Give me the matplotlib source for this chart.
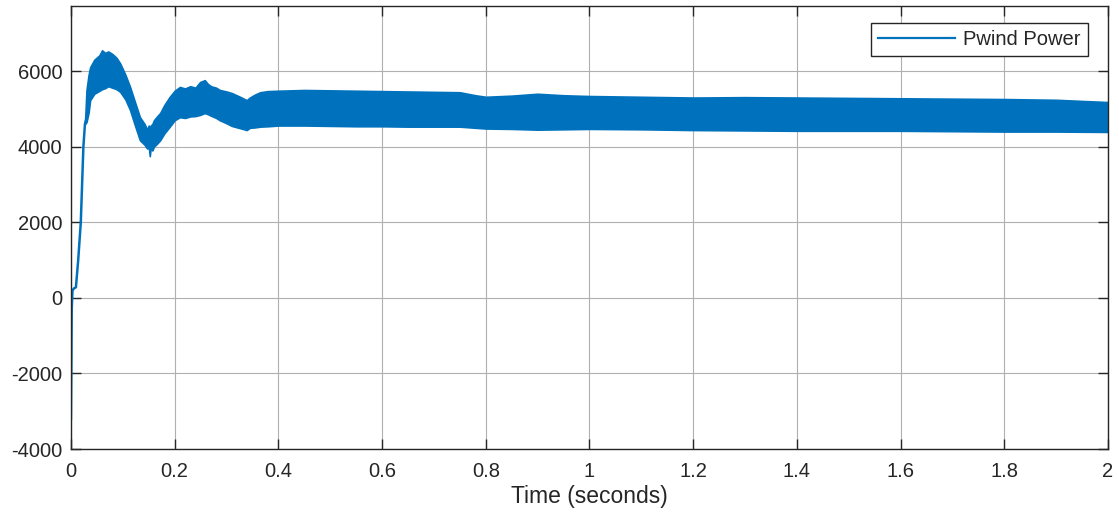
import matplotlib
matplotlib.use("Agg")
import matplotlib.pyplot as plt
import numpy as np

# ---- data ----
# initial transient (single trace)
t_start = [0.0, 0.0008, 0.0015, 0.003, 0.006, 0.0096, 0.014, 0.019, 0.024, 0.027, 0.029]
p_start = [-3200, -1800, -300, 200, 250, 280, 1000, 2000, 4000, 4600, 4700]

# oscillation band: time, upper envelope, lower envelope
t_band = [0.027, 0.030, 0.034, 0.037, 0.045, 0.055, 0.060, 0.066, 0.072, 0.080,
          0.088, 0.095, 0.105, 0.114, 0.123, 0.133, 0.142, 0.147, 0.150, 0.152,
          0.154, 0.157, 0.160, 0.166, 0.172, 0.180, 0.190, 0.200, 0.210, 0.220,
          0.230, 0.240, 0.249, 0.258, 0.264, 0.270, 0.280, 0.287, 0.300, 0.310,
          0.326, 0.339, 0.345, 0.355, 0.365, 0.380, 0.400, 0.450, 0.500, 0.550,
          0.600, 0.650, 0.700, 0.750, 0.780, 0.800, 0.850, 0.900, 0.950, 1.000,
          1.100, 1.200, 1.300, 1.400, 1.500, 1.600, 1.700, 1.800, 1.900, 2.000]
p_upper = [4600, 5500, 5900, 6100, 6300, 6420, 6550, 6480, 6520, 6450,
           6350, 6200, 5900, 5580, 5200, 4780, 4600, 4450, 4560, 4480,
           4560, 4600, 4700, 4800, 4890, 5100, 5310, 5480, 5580, 5540,
           5600, 5560, 5710, 5760, 5660, 5600, 5560, 5500, 5460, 5420,
           5320, 5230, 5300, 5380, 5440, 5470, 5480, 5500, 5490, 5480,
           5470, 5460, 5450, 5440, 5360, 5320, 5350, 5400, 5360, 5340,
           5320, 5300, 5310, 5300, 5290, 5280, 5270, 5260, 5240, 5180]
p_lower = [4600, 4650, 4900, 5230, 5400, 5480, 5520, 5550, 5600, 5560,
           5520, 5450, 5250, 4970, 4580, 4170, 4050, 3950, 4000, 3750,
           3980, 3900, 4000, 4080, 4170, 4350, 4520, 4700, 4780, 4760,
           4800, 4810, 4840, 4890, 4860, 4820, 4760, 4700, 4620, 4550,
           4490, 4440, 4500, 4510, 4530, 4540, 4560, 4560, 4550, 4540,
           4540, 4530, 4530, 4530, 4500, 4480, 4470, 4450, 4460, 4470,
           4460, 4440, 4430, 4420, 4420, 4420, 4410, 4400, 4400, 4390]

x_ticks = [0, 0.2, 0.4, 0.6, 0.8, 1, 1.2, 1.4, 1.6, 1.8, 2]
x_ticklabels = ["0", "0.2", "0.4", "0.6", "0.8", "1", "1.2", "1.4", "1.6", "1.8", "2"]
y_ticks = [-4000, -2000, 0, 2000, 4000, 6000]
y_ticklabels = ["-4000", "-2000", "0", "2000", "4000", "6000"]

series_label = "Pwind Power"
x_label = "Time (seconds)"

# ---- style ----
blue = "#0072BD"
dark = "#262626"
plt.rcParams["font.family"] = ["Liberation Sans", "DejaVu Sans"]

fig = plt.figure(figsize=(11.19, 5.24), dpi=100)
ax = fig.add_axes([0.0634, 0.1431, 0.9268, 0.8460])

ax.plot(t_start, p_start, color=blue, lw=1.8, solid_joinstyle="round")
ax.fill_between(t_band, p_lower, p_upper, color=blue, lw=1.2, edgecolor=blue)
# legend proxy
ax.plot([], [], color=blue, lw=1.6, label=series_label)

ax.set_xlim(0, 2)
ax.set_ylim(-4000, 7730)
ax.set_xticks(x_ticks)
ax.set_xticklabels(x_ticklabels)
ax.set_yticks(y_ticks)
ax.set_yticklabels(y_ticklabels)

ax.grid(True, color="#b0b0b0", lw=0.8)
ax.set_axisbelow(True)
ax.tick_params(direction="in", length=7, width=1, colors=dark,
               top=True, right=True, labelsize=14.5)
ax.tick_params(axis="x", pad=9)
ax.tick_params(axis="y", pad=6)
for s in ax.spines.values():
    s.set_color(dark)
    s.set_linewidth(1.0)

ax.set_xlabel(x_label, fontsize=16.5, color=dark, labelpad=3)

leg = ax.legend(loc="upper right", bbox_to_anchor=(0.9807, 0.961),
                borderaxespad=0, fancybox=False, fontsize=14.5,
                handlelength=3.85, handletextpad=0.4, borderpad=0.35,
                framealpha=1)
leg.get_frame().set_edgecolor(dark)
leg.get_frame().set_linewidth(1.0)
for txt in leg.get_texts():
    txt.set_color(dark)

fig.savefig("out.png", dpi=100)
